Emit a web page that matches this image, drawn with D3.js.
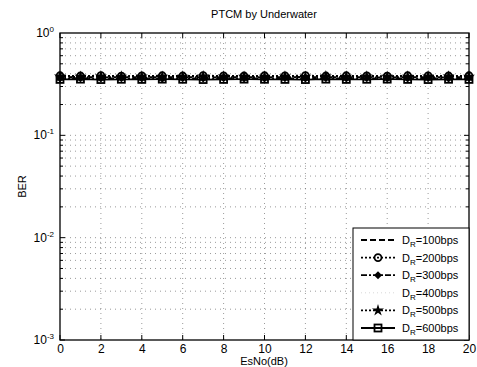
<!DOCTYPE html>
<html><head><meta charset="utf-8">
<script src="https://cdn.jsdelivr.net/npm/d3@7"></script>
<style>body{margin:0;background:#fff}svg{display:block}text{font-family:"Liberation Sans",Arial,sans-serif;fill:#000}</style>
</head><body>
<svg id="c" width="477" height="367"></svg>
<script>
const esno = d3.range(0, 21, 1);
const xTicks = [0,2,4,6,8,10,12,14,16,18,20];
const yTickExps = [0,-1,-2,-3];
const ber100 = [0.370,0.372,0.368,0.371,0.369,0.370,0.372,0.368,0.370,0.371,0.369,0.370,0.372,0.369,0.371,0.370,0.368,0.371,0.370,0.369,0.370];
const ber200 = [0.382,0.380,0.383,0.379,0.381,0.382,0.380,0.383,0.381,0.380,0.382,0.381,0.383,0.380,0.382,0.381,0.379,0.382,0.381,0.380,0.382];
const ber300 = [0.360,0.362,0.359,0.361,0.360,0.358,0.361,0.360,0.362,0.359,0.360,0.361,0.359,0.362,0.360,0.361,0.359,0.360,0.362,0.360,0.361];
const ber400 = [0.365,0.366,0.364,0.367,0.365,0.364,0.366,0.365,0.364,0.366,0.365,0.367,0.364,0.365,0.366,0.364,0.365,0.366,0.364,0.365,0.366];
const ber500 = [0.376,0.374,0.377,0.375,0.376,0.374,0.375,0.377,0.376,0.374,0.375,0.376,0.374,0.377,0.375,0.376,0.374,0.375,0.377,0.376,0.375];
const ber600 = [0.352,0.354,0.351,0.353,0.352,0.354,0.353,0.351,0.352,0.354,0.353,0.352,0.351,0.354,0.352,0.353,0.354,0.352,0.351,0.353,0.352];
const labels = ["100","200","300","400","500","600"];

const series = [
  {v:ber100, dash:"6,3", marker:"none", w:1.8},
  {v:ber200, dash:"2,2", marker:"circle", w:1.8},
  {v:ber300, dash:"6,2,2,2", marker:"diamond", w:1.8},
  {v:ber400, dash:"1,3", marker:"none", w:0.6, color:"#bbb"},
  {v:ber500, dash:"2,2", marker:"star", w:1.8},
  {v:ber600, dash:null, marker:"square", w:1.8}
];

const L=60, R=469, T=33, B=340;
const svg = d3.select("#c");
const x = d3.scaleLinear().domain([0,20]).range([L,R]);
const y = d3.scaleLog().domain([1e-3,1]).range([B,T]);

// grid
const g = svg.append("g");
xTicks.forEach(t=>{ if(t>0 && t<20) g.append("line").attr("x1",x(t)).attr("x2",x(t)).attr("y1",T).attr("y2",B).attr("stroke","#555").attr("stroke-width",0.6).attr("stroke-dasharray","1,4");});
const minor=[];
for(let e=-3;e<0;e++){ for(let m=1;m<10;m++){ minor.push({v:m*Math.pow(10,e), major:m===1}); } }
minor.forEach(d=>{ if(d.v>1e-3) g.append("line").attr("x1",L).attr("x2",R).attr("y1",y(d.v)).attr("y2",y(d.v)).attr("stroke","#555").attr("stroke-width",0.6).attr("stroke-dasharray","1,4");});

// ticks inside
minor.forEach(d=>{ const len=d.major?5:3; [ [L,L+len],[R,R-len] ].forEach(p=>g.append("line").attr("x1",p[0]).attr("x2",p[1]).attr("y1",y(d.v)).attr("y2",y(d.v)).attr("stroke","#000").attr("stroke-width",1));});
xTicks.forEach(t=>{ [[B,B-5],[T,T+5]].forEach(p=>g.append("line").attr("x1",x(t)).attr("x2",x(t)).attr("y1",p[0]).attr("y2",p[1]).attr("stroke","#000"));});

// box
svg.append("rect").attr("x",L).attr("y",T).attr("width",R-L).attr("height",B-T).attr("fill","none").attr("stroke","#000").attr("stroke-width",1.3);

// axis labels
const xa = svg.append("g").attr("transform",`translate(0,${B})`).call(d3.axisBottom(x).tickValues(xTicks).tickSize(0).tickPadding(4).tickFormat(d3.format("d")));
xa.select(".domain").remove();
xa.selectAll("text").style("font-size","12px").style("font-family","Liberation Sans, Arial");
yTickExps.forEach(e=>{
  const t=svg.append("text").attr("x",L-6).attr("y",y(Math.pow(10,e))+4).attr("text-anchor","end").style("font-size","12px");
  t.append("tspan").text("10");
  t.append("tspan").attr("dy",-5).style("font-size","8px").text(e===0?"0":"-"+(-e));
});
svg.append("text").attr("x",264).attr("y",18).attr("text-anchor","middle").style("font-size","11px").text("PTCM by Underwater");
svg.append("text").attr("x",264).attr("y",365).attr("text-anchor","middle").style("font-size","11px").text("EsNo(dB)");
svg.append("text").attr("transform",`translate(26,${(T+B)/2}) rotate(-90)`).attr("text-anchor","middle").style("font-size","11px").text("BER");

const line = d3.line().x((d,i)=>x(esno[i])).y(d=>y(d));
function marker(sel, type, cx, cy){
  if(type==="circle") sel.append("circle").attr("cx",cx).attr("cy",cy).attr("r",3.5).attr("fill","none").attr("stroke","#000").attr("stroke-width",1.8);
  else if(type==="square") sel.append("rect").attr("x",cx-3.5).attr("y",cy-3.5).attr("width",7).attr("height",7).attr("fill","none").attr("stroke","#000").attr("stroke-width",1.8);
  else if(type==="diamond") sel.append("path").attr("d",`M${cx},${cy-4}L${cx+4},${cy}L${cx},${cy+4}L${cx-4},${cy}Z`).attr("fill","#000");
  else if(type==="star") sel.append("path").attr("d",d3.symbol(d3.symbolStar,45)()).attr("transform",`translate(${cx},${cy})`).attr("fill","#000");
}
const pl = svg.append("g");
series.forEach(s=>{
  const p=pl.append("path").datum(s.v).attr("d",line).attr("fill","none").attr("stroke",s.color||"#000").attr("stroke-width",s.w);
  if(s.dash) p.attr("stroke-dasharray",s.dash);
  if(s.marker!=="none") s.v.forEach((v,i)=>marker(pl,s.marker,x(esno[i]),y(v)));
});

// legend
const lg = svg.append("g");
const LX=353, LY=228;
lg.append("rect").attr("x",LX).attr("y",LY).attr("width",R-LX).attr("height",B-LY).attr("fill","#fff").attr("stroke","#000").attr("stroke-width",1);
series.forEach((s,i)=>{
  const cy = LY+12+i*17.6;
  const l=lg.append("line").attr("x1",LX+8).attr("x2",LX+42).attr("y1",cy).attr("y2",cy).attr("stroke",s.color||"#000").attr("stroke-width",s.w);
  if(s.dash) l.attr("stroke-dasharray",s.dash);
  if(s.marker!=="none") marker(lg,s.marker,LX+25,cy);
  const t=lg.append("text").attr("x",LX+49).attr("y",cy+4).style("font-size","11px");
  t.append("tspan").text("D");
  t.append("tspan").attr("dy",3).style("font-size","8px").text("R");
  t.append("tspan").attr("dy",-3).text("="+labels[i]+"bps");
});
</script>
</body></html>
